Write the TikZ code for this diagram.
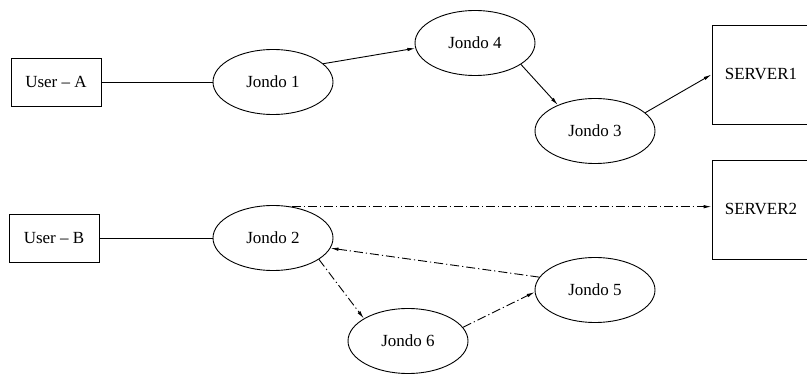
\documentclass[tikz,border=0pt]{standalone}
\usepackage{fontspec}
\setmainfont{Liberation Serif}
\usetikzlibrary{shapes.geometric,arrows.meta}
\begin{document}
\begin{tikzpicture}[x=1pt,y=-1pt,
 font=\fontsize{17}{20}\selectfont,
 line width=0.9pt,
 jondo/.style={draw,ellipse,minimum width=120pt,minimum height=65pt,inner sep=0pt},
 userbox/.style={draw,rectangle,minimum width=90pt,minimum height=48pt,inner sep=0pt},
 serverbox/.style={draw,rectangle,minimum width=98pt,minimum height=99pt,inner sep=0pt},
 arr/.style={-{Latex[length=8pt,width=3.5pt]}},
 dd/.style={dash pattern=on 9pt off 3pt on 1.2pt off 3pt}
]
\useasboundingbox (0,0) rectangle (807,374);
\clip (0,0) rectangle (807,374);
\node[userbox] (ua) at (56,82) {User -- A};
\node[userbox] (ub) at (54,238) {User -- B};
\node[jondo] (j1) at (273,82) {Jondo 1};
\node[jondo] (j4) at (475,43) {Jondo 4};
\node[jondo] (j3) at (595,131) {Jondo 3};
\node[jondo] (j2) at (273,238) {Jondo 2};
\node[jondo] (j6) at (408,341) {Jondo 6};
\node[jondo] (j5) at (595,290) {Jondo 5};
\node[serverbox] (s1) at (761,74.5) {SERVER1};
\node[serverbox] (s2) at (761,209.5) {SERVER2};
\draw (ua) -- (j1);
\draw (ub) -- (j2);
\draw[arr] (j1.20) -- (j4.185);
\draw[arr] (j4.335) -- (j3.145);
\draw[arr] (j3.20) -- (s1.west);
\coordinate (s2in) at (j2.59 -| s2.west);
\draw[arr,dd] (j2.59) -- (s2in);
\draw[arr,dd] (j5.167) -- (j2.350);
\draw[arr,dd] (j2.335) -- (j6.153);
\draw[arr,dd] (j6.14) -- (j5.182);
\end{tikzpicture}
\end{document}
